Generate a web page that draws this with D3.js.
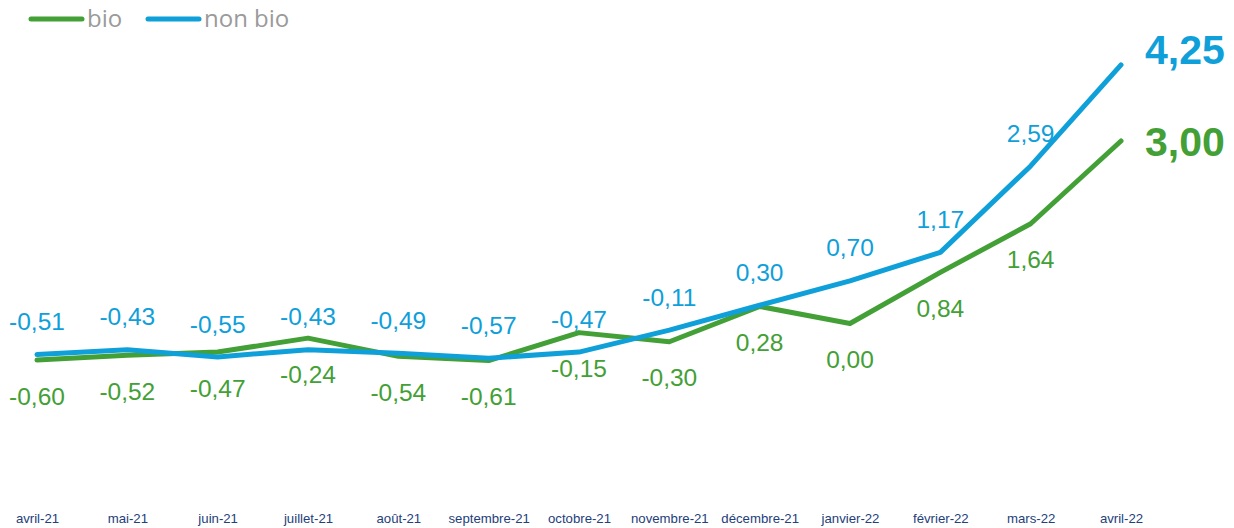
<!DOCTYPE html>
<html>
<head>
<meta charset="utf-8">
<script src="https://cdn.jsdelivr.net/npm/d3@7"></script>
<style>
  body { margin: 0; background: #fff; }
  svg { display: block; }
</style>
</head>
<body>
<div id="chart"></div>
<script>
// ── Données ──────────────────────────────────────────────────────────────
const months = ['avril-21', 'mai-21', 'juin-21', 'juillet-21', 'août-21', 'septembre-21',
  'octobre-21', 'novembre-21', 'décembre-21', 'janvier-22', 'février-22', 'mars-22', 'avril-22'];
const bio    = [-0.60, -0.52, -0.47, -0.24, -0.54, -0.61, -0.15, -0.30, 0.28, 0.00, 0.84, 1.64, 3.00];
const nonBio = [-0.51, -0.43, -0.55, -0.43, -0.49, -0.57, -0.47, -0.11, 0.30, 0.70, 1.17, 2.59, 4.25];

const W = 1234, H = 528;
const GREEN = '#43a036', BLUE = '#0fa0da';
const fmt = v => v.toFixed(2).replace('.', ',');

const svg = d3.select('#chart').append('svg').attr('width', W).attr('height', H);

const x = d3.scalePoint().domain(months).range([37, 1121]);
const y = d3.scaleLinear().domain([0, 3]).range([323.5, 141]);

// Axe X (texte seulement)
const xAxis = d3.axisBottom(x).tickSize(0).tickPadding(0);
const gx = svg.append('g').attr('transform', 'translate(0,514)').call(xAxis);
gx.select('.domain').remove();
gx.selectAll('text')
  .attr('dy', '0.71em')
  .style('font-family', '"Liberation Sans", Arial, sans-serif')
  .style('font-size', '13.2px')
  .style('fill', '#23407a');

// Lignes
const line = d3.line().x((d, i) => x(months[i])).y(d => y(d));
const series = [
  { name: 'bio', values: bio, color: GREEN, dy: 36 },
  { name: 'non bio', values: nonBio, color: BLUE, dy: -33 },
];

for (const s of series) {
  svg.append('path')
    .datum(s.values)
    .attr('d', line)
    .attr('fill', 'none')
    .attr('stroke', s.color)
    .attr('stroke-width', 5)
    .attr('stroke-linejoin', 'round')
    .attr('stroke-linecap', 'round');

  // Étiquettes de valeurs (sauf la dernière)
  svg.append('g').selectAll('text')
    .data(s.values.slice(0, -1))
    .join('text')
    .attr('x', (d, i) => x(months[i]))
    .attr('y', d => y(d) + s.dy)
    .attr('dy', '0.35em')
    .attr('text-anchor', 'middle')
    .style('font-family', '"Liberation Sans", Arial, sans-serif')
    .style('font-size', '24.5px')
    .style('fill', s.color)
    .text(d => fmt(d));

  // Dernière valeur en gras
  const last = s.values[s.values.length - 1];
  svg.append('text')
    .attr('x', x(months[months.length - 1]) + 24)
    .attr('y', y(last) + (s.name === 'bio' ? 1 : -15))
    .attr('dy', '0.35em')
    .style('font-family', '"Liberation Sans", Arial, sans-serif')
    .style('font-size', '41px')
    .style('font-weight', 'bold')
    .style('fill', s.color)
    .text(fmt(last));
}

// Légende
const legend = svg.append('g').attr('transform', 'translate(0,19)');
const legItems = [
  { label: 'bio', color: GREEN, x: 31 },
  { label: 'non bio', color: BLUE, x: 148 },
];
for (const it of legItems) {
  legend.append('line')
    .attr('x1', it.x).attr('x2', it.x + 51)
    .attr('y1', 0).attr('y2', 0)
    .attr('stroke', it.color)
    .attr('stroke-width', 5)
    .attr('stroke-linecap', 'round');
  legend.append('text')
    .attr('x', it.x + 56)
    .attr('y', 0)
    .attr('dy', '0.35em')
    .style('font-family', '"Open Sans", "Noto Sans", sans-serif')
    .style('font-size', '24px')
    .style('fill', '#9a9a9a')
    .text(it.label);
}
</script>
</body>
</html>
